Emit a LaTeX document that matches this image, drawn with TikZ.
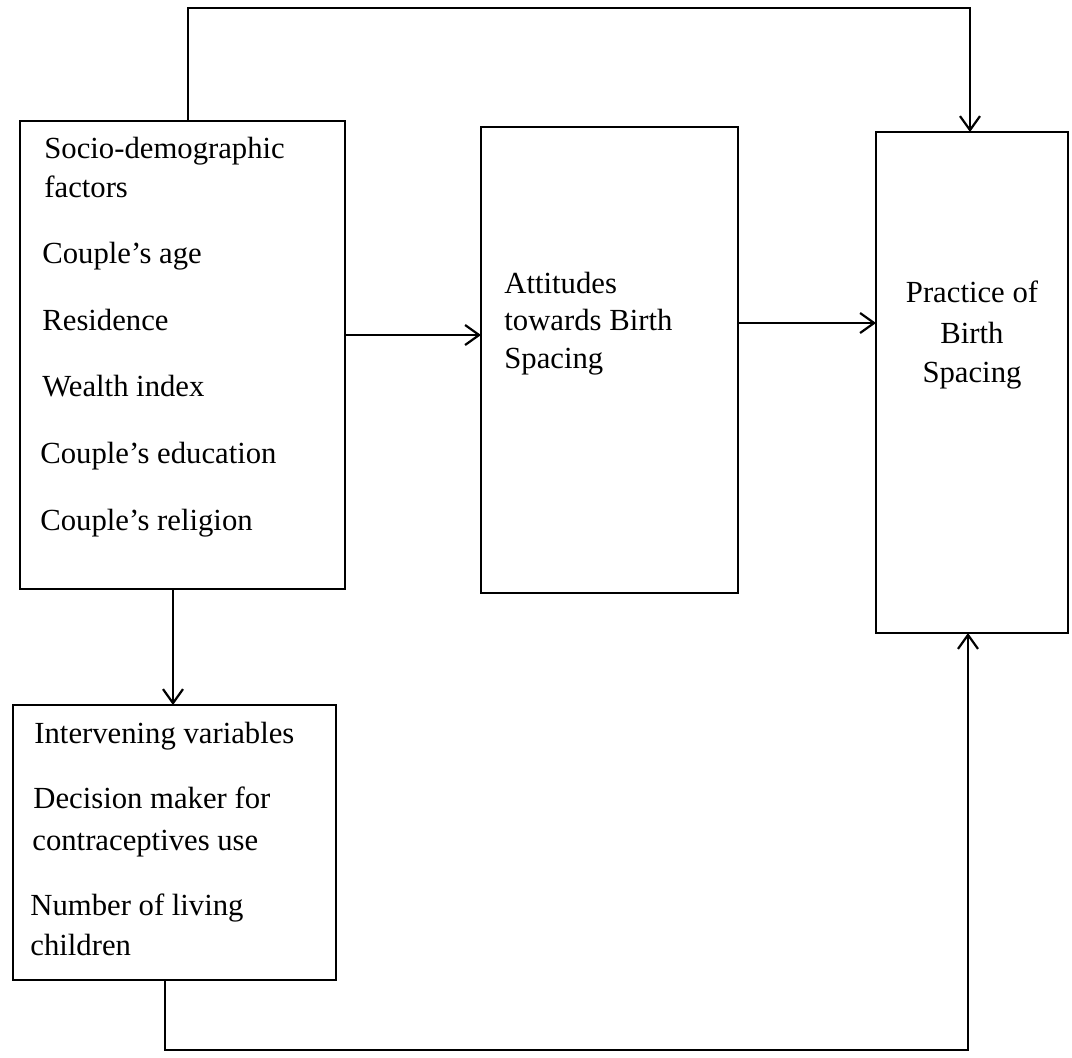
\documentclass[tikz,border=0pt]{standalone}
\usepackage{fontspec}
\setmainfont{Liberation Serif}
\usetikzlibrary{arrows.meta}
\begin{document}
\begin{tikzpicture}[x=0.5pt,y=-0.5pt,
  box/.style={draw, line width=0.8pt, inner sep=0pt, outer sep=0pt},
  txt/.style={inner sep=0pt, anchor=base west, font=\fontsize{15.35pt}{18pt}\selectfont},
  ctxt/.style={inner sep=0pt, anchor=base, font=\fontsize{15.35pt}{18pt}\selectfont},
  conn/.style={line width=1.1pt},
  arr/.style={conn, -{Straight Barb[length=7pt,width=10pt,line width=1.1pt]}}]
\useasboundingbox (0,0) rectangle (1072,1057);
% boxes
\node[box, minimum width=162.5pt, minimum height=234pt] (b1) at (182.5,355) {};
\node[box, minimum width=128.5pt, minimum height=233pt] (b2) at (609.5,360) {};
\node[box, minimum width=96pt, minimum height=250.5pt] (b3) at (972,382.5) {};
\node[box, minimum width=161.5pt, minimum height=137.5pt] (b4) at (174.5,842.5) {};
% box 1 text
\node[txt] (t11) at (44,158) {Socio-demographic};
\node[txt] (t12) at (44,197) {factors};
\node[txt] (t13) at (42,263) {Couple’s age};
\node[txt] (t14) at (42,330) {Residence};
\node[txt] (t15) at (42,396) {Wealth index};
\node[txt] (t16) at (40,463) {Couple’s education};
\node[txt] (t17) at (40,530) {Couple’s religion};
% box 2 text
\node[txt] (t21) at (504,293) {Attitudes};
\node[txt] (t22) at (504,330) {towards Birth};
\node[txt] (t23) at (504,368) {Spacing};
% box 3 text
\node[ctxt] (t31) at (972,302) {Practice of};
\node[ctxt] (t32) at (972,343) {Birth};
\node[ctxt] (t33) at (972,382) {Spacing};
% box 4 text
\node[txt] (t41) at (34,743) {Intervening variables};
\node[txt] (t42) at (33,808) {Decision maker for};
\node[txt] (t43) at (32,850) {contraceptives use};
\node[txt] (t44) at (30,915) {Number of living};
\node[txt] (t45) at (30,955) {children};
% helper coordinates
\coordinate (tl) at (188,8);
\coordinate (tr) at (970,8);
\coordinate (m1) at (0,335);
\coordinate (m2) at (0,323);
\coordinate (dv) at (173,0);
\coordinate (bl) at (165,1050);
\coordinate (br) at (968,1050);
% connectors
\draw[arr] (b1.north -| tl) -- (tl) -- (tr) -- (b3.north -| tr);
\draw[arr] (b1.east |- m1) -- (b2.west |- m1);
\draw[arr] (b2.east |- m2) -- (b3.west |- m2);
\draw[arr] (b1.south -| dv) -- (b4.north -| dv);
\draw[arr] (b4.south -| bl) -- (bl) -- (br) -- (b3.south -| br);
\end{tikzpicture}
\end{document}
